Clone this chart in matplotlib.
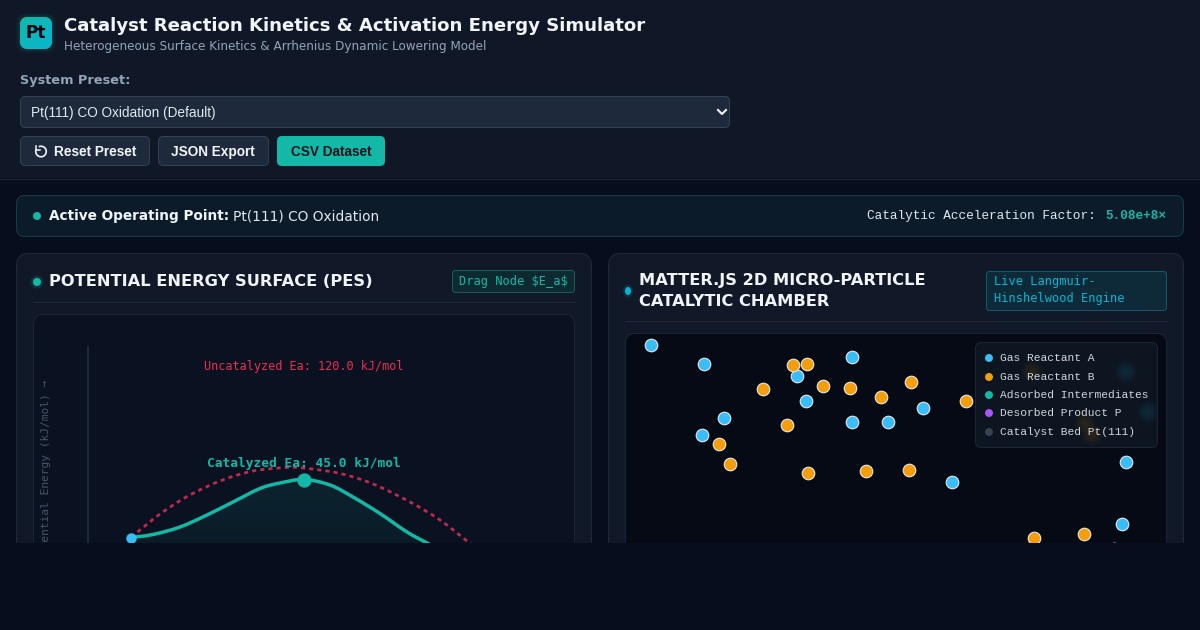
import numpy as np
import matplotlib
matplotlib.use('Agg')
import matplotlib.pyplot as plt
from matplotlib.colors import LinearSegmentedColormap, to_rgb
from matplotlib.patches import FancyBboxPatch, Rectangle, Circle, Arc, Ellipse, PathPatch
from matplotlib.path import Path

# 粒子位置 (从图上读取, 像素)
gas_a_x = [651, 704, 852, 797, 806, 724, 702, 852, 888, 923, 1126, 952, 1122, 1114]
gas_a_y = [345, 364, 357, 376, 401, 418, 435, 422, 422, 408, 462, 482, 524, 549]
gas_b_x = [793, 807, 763, 823, 850, 881, 911, 966, 787, 719, 730, 808, 866, 909, 1034, 1084]
gas_b_y = [365, 364, 389, 386, 388, 397, 382, 401, 425, 444, 464, 473, 471, 470, 538, 534]

# 图例后面被模糊的粒子
blur_x = [1032, 1126, 1148, 1085, 1092]
blur_y = [372, 372, 412, 423, 435]
blur_colors = ['#f59e0b', '#38bdf8', '#38bdf8', '#f59e0b', '#f59e0b']

# 能量曲线
cat_x = [131, 153, 180, 207, 233, 260, 280, 304, 330, 353, 380, 407, 428, 445]
cat_y = [537.5, 534.5, 527, 515, 502, 488.5, 483, 479.5, 485, 497, 513.5, 532, 543.5, 553]
uncat_x = [131, 140, 160, 188, 220, 253, 287, 303, 338, 372, 410, 440, 467, 482]
uncat_y = [537, 530, 514, 496, 481, 471, 467.5, 468, 473, 483.5, 502, 520, 541, 553]

legend_labels = ['Gas Reactant A', 'Gas Reactant B', 'Adsorbed Intermediates',
                 'Desorbed Product P', 'Catalyst Bed Pt(111)']
legend_colors = ['#38bdf8', '#f59e0b', '#14b8a6', '#a855f7', '#374151']

PAGE = '#070d1c'
HEADER = '#101828'
CARD = '#111827'
TEAL = '#14b8a6'
CYAN = '#06b6d4'
SANS = 'DejaVu Sans'
MONO = 'DejaVu Sans Mono'
LMONO = 'Liberation Mono'
LSANS = 'Liberation Sans'

fig = plt.figure(figsize=(12, 6.3), dpi=100, facecolor=PAGE)
ax = fig.add_axes([0, 0, 1, 1])
ax.set_xlim(0, 1200)
ax.set_ylim(630, 0)
ax.axis('off')


def box(x, y, w, h, r, fc, ec='none', lw=0.75, z=1, alpha=None):
    p = FancyBboxPatch((x, y), w, h, boxstyle=f'round,pad=0,rounding_size={r}',
                       fc=fc, ec=ec, lw=lw, zorder=z, alpha=alpha)
    ax.add_patch(p)
    return p


# y 是基线位置
def txt(x, y, s, px, color, family=SANS, weight='normal', ha='left', va='baseline', z=10, **kw):
    return ax.text(x, y, s, fontsize=px * 0.72, color=color, family=family,
                   fontweight=weight, ha=ha, va=va, zorder=z, **kw)


def glow(x, y, r, color, a, z, n=8):
    for i in range(n):
        ax.add_patch(Circle((x, y), r * (1 - i / n), fc=color, ec='none', alpha=a, zorder=z))


# 把读到的点连成平滑路径
def smooth_path(xs, ys, close_to=None):
    pts = np.column_stack([xs, ys]).astype(float)
    verts = [pts[0]]
    codes = [Path.MOVETO]
    for i in range(len(pts) - 1):
        p0 = pts[max(i - 1, 0)]
        p1 = pts[i]
        p2 = pts[i + 1]
        p3 = pts[min(i + 2, len(pts) - 1)]
        verts += [p1 + (p2 - p0) / 6, p2 - (p3 - p1) / 6, p2]
        codes += [Path.CURVE4] * 3
    if close_to is not None:
        verts += [(xs[-1], close_to), (xs[0], close_to), pts[0]]
        codes += [Path.LINETO, Path.LINETO, Path.CLOSEPOLY]
    return Path(verts, codes)


# 顶部
ax.add_patch(Rectangle((0, 0), 1200, 178, fc=HEADER, ec='none', zorder=0))
ax.plot([0, 1200], [178.5, 178.5], color='#1e293b', lw=0.75, zorder=1)

# logo
for i in range(4):
    box(20 - 4 + i, 17 - 4 + i, 40 - 2 * i, 40 - 2 * i, 10, TEAL, z=1, alpha=0.035)
logo = box(20, 17, 32, 32, 8, TEAL, z=2)
grad = np.linspace(0, 1, 64)[None, :] * 0.5 + np.linspace(0, 1, 64)[:, None] * 0.5
im = ax.imshow(grad, extent=(20, 52, 49, 17), cmap=LinearSegmentedColormap.from_list('logo', [TEAL, CYAN]),
               zorder=3, aspect='auto')
im.set_clip_path(logo)
ax.set_xlim(0, 1200)
ax.set_ylim(630, 0)
txt(36, 38, 'Pt', 17, '#020617', weight='bold', ha='center')

txt(64, 31, 'Catalyst Reaction Kinetics & Activation Energy Simulator', 18.1, '#f1f5f9', weight='bold')
txt(64, 50, 'Heterogeneous Surface Kinetics & Arrhenius Dynamic Lowering Model', 12, '#94a3b8')
txt(20, 84, 'System Preset:', 12.9, '#94a3b8', weight='bold')

# 下拉框
box(20.5, 96.5, 709, 31, 5, '#1e293b', '#334155')
txt(31, 117.3, 'Pt(111) CO Oxidation (Default)', 13.6, '#e2e8f0', family=LSANS)
ax.plot([718, 722, 726], [110, 114, 110], color='#f1f5f9', lw=1.5, zorder=10)

# 按钮
box(20.5, 136.5, 129, 29, 5, '#1e293b', '#334155')
txt(53.5, 156.3, 'Reset Preset', 13.6, '#f1f5f9', family=LSANS, weight='bold')
ax.add_patch(Arc((41, 151.5), 10.5, 10.5, theta1=-115, theta2=205, color='#f1f5f9', lw=1.2, zorder=10))
ax.plot([36, 36, 40], [146, 150, 150], color='#f1f5f9', lw=1.1, zorder=10)
box(158.5, 136.5, 110, 29, 5, '#1e293b', '#334155')
txt(171, 156.3, 'JSON Export', 13.6, '#f1f5f9', family=LSANS, weight='bold')
box(277, 136, 108, 30, 5, TEAL)
txt(291, 156.3, 'CSV Dataset', 13.6, '#0b1220', family=LSANS, weight='bold')

# 状态条
box(16.5, 195.5, 1167, 41, 8, '#0c1b2a', '#123c44')
ax.add_patch(Circle((37, 216), 4, fc=TEAL, ec='none', zorder=6))
txt(49, 220, 'Active Operating Point:', 13.6, '#f1f5f9', weight='bold')
txt(233, 220, 'Pt(111) CO Oxidation', 13.7, '#e2e8f0')
txt(867, 219.3, 'Catalytic Acceleration Factor:', 12.8, '#e2e8f0', family=LMONO)
txt(1105, 219.3, '5.08e+8×', 12.8, TEAL, family=LMONO, weight='bold')

# 左侧卡片
box(16.5, 253.5, 575, 340, 12, CARD, '#1e293b')
glow(37, 282, 6.5, TEAL, 0.15, 3, n=3)
ax.add_patch(Circle((37, 282), 4, fc=TEAL, ec='none', zorder=6))
txt(49, 286.5, 'POTENTIAL ENERGY SURFACE (PES)', 16.3, '#f1f5f9', weight='bold')
box(452.5, 270.5, 122, 22, 3, '#0d2a30', '#115e59')
txt(459, 284.8, 'Drag Node $E_a$', 12, TEAL, family=MONO, parse_math=False)
ax.plot([33, 575], [301.5, 301.5], color='#1e293b', lw=0.75, zorder=2)
box(33.5, 314.5, 541, 280, 10, '#0a1120', '#1a2436', z=2)

ax.plot([88, 88], [347, 560], color='#1e293b', lw=1.5, zorder=3)
txt(46, 380, 'Potential Energy (kJ/mol) →', 11.2, '#475569', family=MONO, rotation=90, ha='center', va='top')
txt(304, 370, 'Uncatalyzed Ea: 120.0 kJ/mol', 11.85, '#e8324f', family=MONO, ha='center')
txt(304, 466.7, 'Catalyzed Ea: 45.0 kJ/mol', 12.9, TEAL, family=MONO, weight='bold', ha='center')

# 曲线下方渐变
ramp = np.zeros((64, 2, 4))
ramp[..., :3] = to_rgb(TEAL)
ramp[..., 3] = np.linspace(0.12, 0.05, 64)[:, None]
area = PathPatch(smooth_path(cat_x, cat_y, close_to=560), fc='none', ec='none')
ax.add_patch(area)
im2 = ax.imshow(ramp, extent=(131, 445, 560, 478), zorder=3, aspect='auto')
im2.set_clip_path(area)
ax.set_xlim(0, 1200)
ax.set_ylim(630, 0)

ax.add_patch(PathPatch(smooth_path(uncat_x, uncat_y), fc='none', ec='#be2a4d', lw=2,
                       ls=(0, (1.5, 1.45)), zorder=4))
ax.add_patch(PathPatch(smooth_path(cat_x, cat_y), fc='none', ec=TEAL, lw=2.5, zorder=5))
ax.scatter([cat_x[7]], [cat_y[7]], s=106, color=TEAL, zorder=6, linewidths=0)
ax.scatter([cat_x[0]], [cat_y[0]], s=56, color='#38bdf8', zorder=6, linewidths=0)

# 右侧卡片
box(608.5, 253.5, 575, 340, 12, CARD, '#1e293b')
ax.add_patch(Ellipse((628, 291), 10, 13, fc=CYAN, ec='none', alpha=0.15, zorder=3))
ax.add_patch(Ellipse((628, 291), 6, 8, fc=CYAN, ec='none', zorder=6))
txt(639, 285.5, 'MATTER.JS 2D MICRO-PARTICLE', 16.3, '#f1f5f9', weight='bold')
txt(639, 306, 'CATALYTIC CHAMBER', 16.3, '#f1f5f9', weight='bold')
box(986.5, 271.5, 180, 39, 3, '#0e2a38', '#0e5a6e')
txt(994, 285, 'Live Langmuir-', 12, CYAN, family=MONO)
txt(994, 302.3, 'Hinshelwood Engine', 12, CYAN, family=MONO)
ax.plot([625, 1167], [320.5, 320.5], color='#1e293b', lw=0.75, zorder=2)
box(625.5, 333.5, 541, 280, 10, '#060a14', '#1a2436', z=2)

ax.scatter(gas_a_x, gas_a_y, s=82, color='#38bdf8', edgecolors='#e5e7eb', linewidths=0.8, zorder=5)
ax.scatter(gas_b_x, gas_b_y, s=82, color='#f59e0b', edgecolors='#e5e7eb', linewidths=0.8, zorder=5)

for x, y, c in zip(blur_x, blur_y, blur_colors):
    glow(x, y, 11, c, 0.018, 6)

# 图例
box(975.5, 342.5, 182, 105, 6, '#0f1724', '#1e293b', z=4, alpha=0.85)
legend_dot_y = [358, 377, 395, 413, 432]
legend_text_y = [360.7, 379.7, 398.3, 416.3, 435.3]
for dy, ty, label, c in zip(legend_dot_y, legend_text_y, legend_labels, legend_colors):
    ax.add_patch(Circle((989, dy), 4, fc=c, ec='none', zorder=8))
    txt(1000, ty, label, 11.2, '#d1d5db', family=LMONO)

# 页面在 y=543 处被截断
ax.add_patch(Rectangle((0, 543), 1200, 87, fc=PAGE, ec='none', zorder=20))

fig.savefig('out.png', dpi=100, facecolor=PAGE)
plt.close()
